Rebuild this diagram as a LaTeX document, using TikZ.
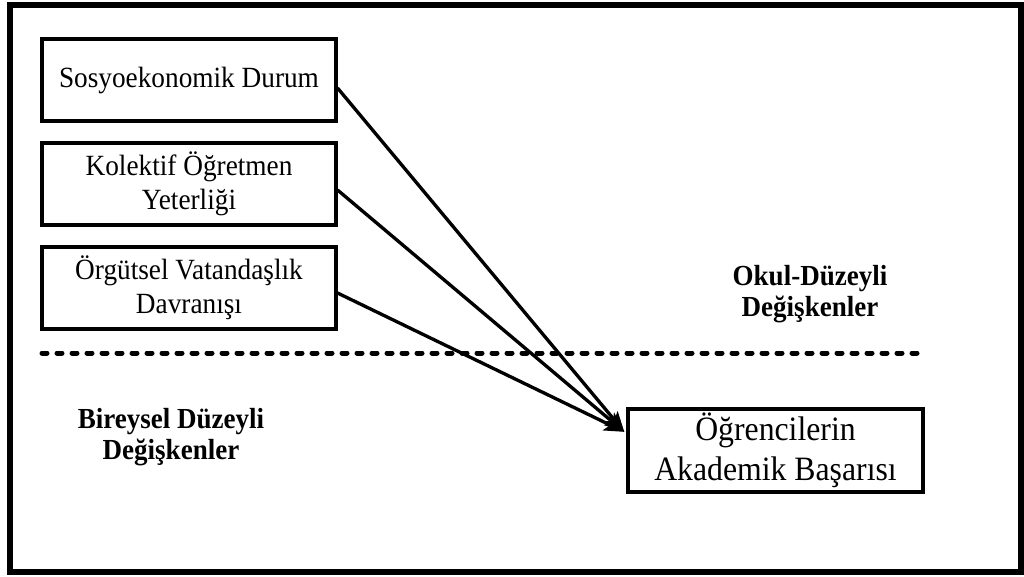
\documentclass[tikz,border=0pt]{standalone}
\usepackage{fontspec}
\setmainfont{Liberation Serif}[FakeStretch=0.93]
\usetikzlibrary{arrows.meta}

\begin{document}
\begin{tikzpicture}[x=0.75pt,y=-0.75pt]
		\tikzset{var/.style = {draw, line width=2.8pt, minimum width=220pt, minimum height=61.5pt, inner sep=0pt, align=center, font=\fontsize{22}{25.5}\selectfont}}
		\tikzset{level/.style = {align=center, inner sep=0pt, font=\bfseries\fontsize{21.8}{23.5}\selectfont}}
		\tikzset{edge/.style = {line width=2.5pt, -{Stealth[length=15pt,width=12pt,inset=3.5pt]}}}
		\useasboundingbox (0,0) rectangle (1024,576);
		% frame
		\draw[line width=3.8pt] (10,5) rectangle (1021,572);
		% vertices
		\node[var] (ses) at (189,80) {Sosyoekonomik Durum};
		\node[var] (kol) at (189,184) {Kolektif Öğretmen\\Yeterliği};
		\node[var] (org) at (189,288) {Örgütsel Vatandaşlık\\Davranışı};
		\node[var, minimum width=221pt, minimum height=62pt, font=\fontsize{25.6}{30}\selectfont] (ach) at (775.5,450.5) {Öğrencilerin\\Akademik Başarısı};
		% levels
		\node[level] (okul) at (810,294) {Okul-Düzeyli\\Değişkenler};
		\node[level] (birey) at (171,437) {Bireysel Düzeyli\\Değişkenler};
		\coordinate (sepL) at (42,353);
		\coordinate (sepR) at (925,353);
		\draw[line width=3.75pt, line cap=round, dash pattern=on 3.75pt off 7.5pt] (sepL) -- (sepR);
		% edges
		\coordinate (hit) at ([xshift=-1.5pt,yshift=14pt]ach.west);
		\draw[edge] ([yshift=-6pt]ses.east) -- (hit);
		\draw[edge] ([yshift=-4.5pt]kol.east) -- (hit);
		\draw[edge] ([yshift=-3.75pt]org.east) -- (hit);
\end{tikzpicture}
\end{document}
